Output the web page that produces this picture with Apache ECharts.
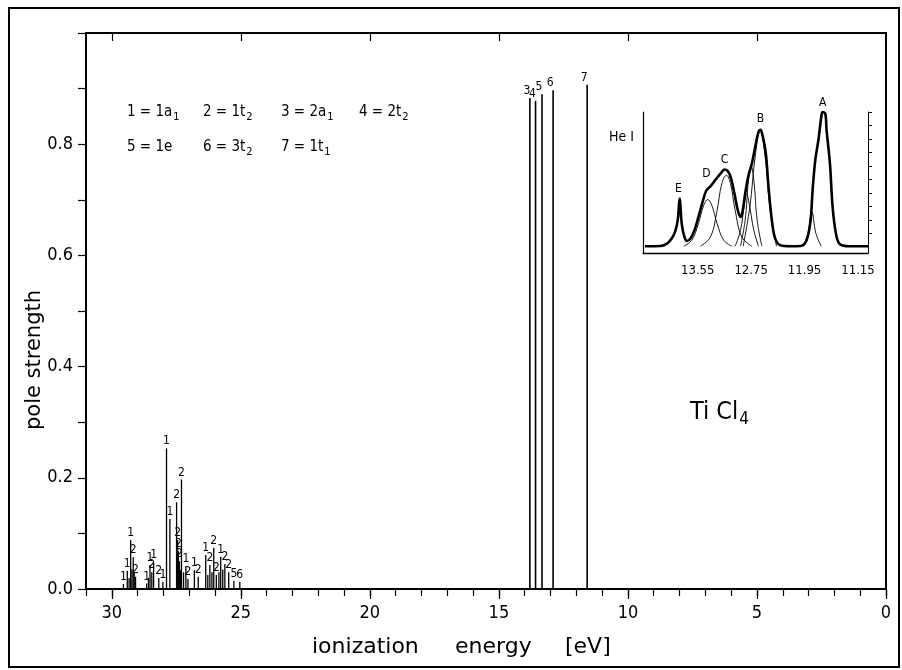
<!DOCTYPE html>
<html><head><meta charset="utf-8">
<script src="https://cdn.jsdelivr.net/npm/echarts/dist/echarts.min.js"></script>
<style>html,body{margin:0;padding:0;background:#fff}#c{width:902px;height:670px}</style>
</head><body><div id="c"></div>
<script>
// ---------- data: calculated pole strengths (main panel) ----------
const stickEnergy = [29.55,29.40,29.33,29.27,29.22,29.17,29.13,29.08,
  28.65,28.58,28.52,28.45,28.38,28.18,28.02,
  27.88,27.75,27.49,27.45,27.42,27.38,27.34,27.30,27.22,27.13,27.05,
  26.80,26.65,26.36,26.28,26.20,26.12,26.05,25.95,25.85,25.78,25.70,25.62,25.47,25.27,25.04,
  13.80,13.58,13.33,12.90,11.58];
const stickStrength = [0.009,0.033,0.020,0.088,0.035,0.057,0.030,0.022,
  0.010,0.020,0.043,0.030,0.048,0.020,0.013,
  0.253,0.126,0.156,0.088,0.068,0.050,0.034,0.197,0.030,0.041,0.018,
  0.034,0.022,0.061,0.025,0.043,0.030,0.074,0.025,0.030,0.058,0.035,0.045,0.030,0.015,0.013,
  0.883,0.878,0.890,0.897,0.907];
const stickLabel = ['1','1','','1','','2','','2',
  '1','','1','2','1','2','1',
  '1','1','2','2','2','2','','2','','1','2',
  '1','2','1','','2','','2','2','','1','','2','2','5','6',
  '3','4','5','6','7'];
const xMajorTicks = [0,5,10,15,20,25,30];
const xMinorTicks = [0,1,2,3,4,5,6,7,8,9,10,11,12,13,14,15,16,17,18,19,20,21,22,23,24,25,26,27,28,29,30,31];
const xTopTicks = [5,10,15,20,25,30];
const legendItems = [['1 = 1a','1'],['2 = 1t','2'],['3 = 2a','1'],['4 = 2t','2'],['5 = 1e',''],['6 = 3t','2'],['7 = 1t','1']];

// ---------- data: He I photoelectron spectrum (inset) ----------
const specE = [14.34,14.11,14.01,13.94,13.89,13.85,13.83,13.82,13.81,13.79,13.75,13.71,13.66,13.60,13.54,13.47,13.42,13.36,13.29,13.21,13.15,13.10,13.05,13.00,12.95,12.91,12.88,12.84,12.79,12.74,12.69,12.64,12.61,12.58,12.53,12.49,12.44,12.39,12.31,12.16,12.01,11.92,11.86,11.83,11.79,11.74,11.70,11.68,11.64,11.62,11.57,11.53,11.48,11.42,11.27,11.00];
const specI = [0.005,0.007,0.025,0.062,0.111,0.198,0.321,0.358,0.309,0.173,0.074,0.044,0.062,0.123,0.222,0.346,0.420,0.449,0.494,0.543,0.573,0.563,0.506,0.395,0.272,0.222,0.259,0.395,0.531,0.617,0.741,0.852,0.869,0.827,0.691,0.444,0.198,0.062,0.012,0.005,0.007,0.049,0.198,0.420,0.642,0.802,0.963,1.000,0.988,0.864,0.617,0.296,0.099,0.020,0.005,0.005];
const compD_E = [13.76,13.64,13.54,13.46,13.40,13.34,13.26,13.16,13.04];
const compD_I = [0.005,0.049,0.173,0.309,0.351,0.309,0.173,0.049,0.005];
const compC_E = [13.51,13.36,13.26,13.19,13.12,13.06,12.99,12.89,12.74];
const compC_I = [0.005,0.074,0.272,0.469,0.531,0.469,0.272,0.074,0.005];
const compB1_E = [12.99,12.91,12.85,12.82,12.78,12.71,12.64];
const compB1_I = [0.005,0.123,0.321,0.395,0.321,0.123,0.005];
const compB2_E = [12.91,12.84,12.79,12.75,12.71,12.66,12.59];
const compB2_I = [0.005,0.198,0.494,0.598,0.494,0.198,0.005];
const compB3_E = [12.87,12.77,12.69,12.615,12.54,12.47,12.37];
const compB3_I = [0.005,0.296,0.667,0.864,0.667,0.296,0.005];
const compA1_E = [11.97,11.90,11.84,11.78,11.70];
const compA1_I = [0.005,0.099,0.259,0.099,0.005];
const peakNames = ['A','B','C','D','E'];
const peakE = [11.68,12.61,13.15,13.42,13.84];
const peakI = [1.07,0.95,0.647,0.538,0.43];
const insetTickLabels = [13.55,12.75,11.95,11.15];
const insetRightTicks = [0.1,0.2,0.3,0.4,0.5,0.6,0.7,0.8,0.9,1.0];

// ---------- chart ----------
const FONT = '"DejaVu Sans Condensed","DejaVu Sans",sans-serif';
const FONT_W = '"DejaVu Sans",sans-serif';
const chart = echarts.init(document.getElementById('c'), null, {renderer:'canvas'});
const zip = (a,b)=>a.map((v,i)=>[v,b[i]]);

function stickRender(params, api){
  const e = api.value(0), h = api.value(1);
  const p0 = api.coord([e,0]), p1 = api.coord([e,h]);
  const lab = stickLabel[params.dataIndex];
  const big = h > 0.5;
  const ch = [{type:'line', shape:{x1:p0[0],y1:p0[1],x2:p1[0],y2:p1[1]},
    style:{stroke:'#000', lineWidth: big ? 1.6 : 1.3}}];
  if (lab) ch.push({type:'text', style:{text:lab, x:p1[0] - (big?3:0), y:p1[1]-1,
    align:'center', verticalAlign:'bottom', font:(big?'12px ':'12px ')+FONT, fill:'#000'}});
  return {type:'group', children:ch};
}
function peakRender(params, api){
  const p = api.coord([api.value(0), api.value(1)]);
  return {type:'text', style:{text:peakNames[params.dataIndex], x:p[0], y:p[1],
    align:'center', verticalAlign:'middle', font:'12px '+FONT, fill:'#000'}};
}
const thin = {type:'line', xAxisIndex:3, yAxisIndex:2, symbol:'none', smooth:0.4, clip:false,
  lineStyle:{color:'#000', width:0.9}, silent:true, animation:false};

const legendX = [127,203,281,359];
const legendGraphics = legendItems.map((it,i)=>({
  type:'text', left: legendX[i%4], top: i<4 ? 105 : 140,
  style:{text: it[1] ? it[0]+'{s|'+it[1]+'}' : it[0], font:'15px '+FONT, fill:'#000',
    rich:{s:{font:'11px '+FONT, fill:'#000', padding:[9,0,0,1]}}}
}));
const AL = {show:true, onZero:false, lineStyle:{color:'#000', width:2}};

chart.setOption({
  animation:false,
  backgroundColor:'#fff',
  grid:[
    {left:86, right:16, top:33, bottom:81},
    {left:643, right:34, top:112, bottom:417}
  ],
  xAxis:[
    {gridIndex:0, type:'value', min:0, max:31, inverse:true, position:'bottom',
     axisLine:AL,
     axisTick:{show:true, customValues:xMajorTicks, length:10, lineStyle:{color:'#000', width:1.3}},
     axisLabel:{show:true, customValues:xMajorTicks, margin:15, color:'#000', fontSize:18, fontFamily:FONT},
     splitLine:{show:false}},
    {gridIndex:0, type:'value', min:0, max:31, inverse:true, position:'bottom',
     axisLine:{show:false, onZero:false}, axisLabel:{show:false},
     axisTick:{show:true, customValues:xMinorTicks, length:7, lineStyle:{color:'#000', width:1.2}},
     splitLine:{show:false}},
    {gridIndex:0, type:'value', min:0, max:31, inverse:true, position:'top',
     axisLine:AL,
     axisTick:{show:true, inside:true, customValues:xTopTicks, length:8, lineStyle:{color:'#000', width:1.2}},
     axisLabel:{show:false}, splitLine:{show:false}},
    {gridIndex:1, type:'value', min:11.0, max:14.37, inverse:true, position:'bottom',
     axisLine:{show:true, onZero:false, lineStyle:{color:'#000', width:1.3}},
     axisTick:{show:false},
     axisLabel:{show:true, customValues:insetTickLabels, margin:11, color:'#000', fontSize:13, fontFamily:FONT,
       formatter:v=>v.toFixed(2)},
     splitLine:{show:false}}
  ],
  yAxis:[
    {gridIndex:0, type:'value', min:0, max:1, interval:0.2, position:'left',
     axisLine:AL,
     axisTick:{show:true, length:8, lineStyle:{color:'#000', width:1.2}},
     minorTick:{show:true, splitNumber:2, length:8, lineStyle:{color:'#000', width:1.2}},
     axisLabel:{show:true, margin:13, color:'#000', fontSize:18, fontFamily:FONT, showMaxLabel:false,
       formatter:v=>v.toFixed(1)},
     splitLine:{show:false}},
    {gridIndex:0, type:'value', min:0, max:1, position:'right',
     axisLine:AL,
     axisTick:{show:false}, axisLabel:{show:false}, splitLine:{show:false}},
    {gridIndex:1, type:'value', min:-0.045, max:1.0, position:'left',
     axisLine:{show:true, onZero:false, lineStyle:{color:'#000', width:1.2}},
     axisTick:{show:false}, axisLabel:{show:false}, splitLine:{show:false}},
    {gridIndex:1, type:'value', min:-0.045, max:1.0, position:'right',
     axisLine:{show:true, onZero:false, lineStyle:{color:'#000', width:1}},
     axisTick:{show:true, customValues:insetRightTicks, length:4, lineStyle:{color:'#000', width:1}},
     axisLabel:{show:false}, splitLine:{show:false}}
  ],
  series:[
    {type:'custom', xAxisIndex:0, yAxisIndex:0, clip:false, renderItem:stickRender,
     data: zip(stickEnergy, stickStrength), silent:true},
    Object.assign({}, thin, {data: zip(compD_E, compD_I)}),
    Object.assign({}, thin, {data: zip(compC_E, compC_I)}),
    Object.assign({}, thin, {data: zip(compB1_E, compB1_I)}),
    Object.assign({}, thin, {data: zip(compB2_E, compB2_I)}),
    Object.assign({}, thin, {data: zip(compB3_E, compB3_I)}),
    Object.assign({}, thin, {data: zip(compA1_E, compA1_I)}),
    {type:'line', xAxisIndex:3, yAxisIndex:2, symbol:'none', smooth:0.35, clip:false,
     lineStyle:{color:'#000', width:2.6}, data: zip(specE, specI), silent:true},
    {type:'custom', xAxisIndex:3, yAxisIndex:2, clip:false, renderItem:peakRender,
     data: zip(peakE, peakI), silent:true}
  ],
  graphic:[
    {type:'rect', shape:{x:9, y:8, width:890, height:659}, style:{fill:'none', stroke:'#000', lineWidth:2}, silent:true},
    {type:'text', x:35, y:360, rotation:Math.PI/2, style:{text:'pole strength', font:'21px '+FONT_W, fill:'#000',
      align:'center', verticalAlign:'middle'}},
    {type:'text', left:312, top:636, style:{text:'ionization', font:'22px '+FONT_W, fill:'#000'}},
    {type:'text', left:455, top:636, style:{text:'energy', font:'22px '+FONT_W, fill:'#000'}},
    {type:'text', left:565, top:636, style:{text:'[eV]', font:'22px '+FONT_W, fill:'#000'}},
    {type:'text', left:609, top:130, style:{text:'He I', font:'14px '+FONT, fill:'#000'}},
    {type:'text', left:690, top:400, style:{text:'Ti Cl{s|4}', font:'25px '+FONT, fill:'#000',
      rich:{s:{font:'17px '+FONT, fill:'#000', padding:[14,0,0,1]}}}}
  ].concat(legendGraphics)
});
</script>
</body></html>
